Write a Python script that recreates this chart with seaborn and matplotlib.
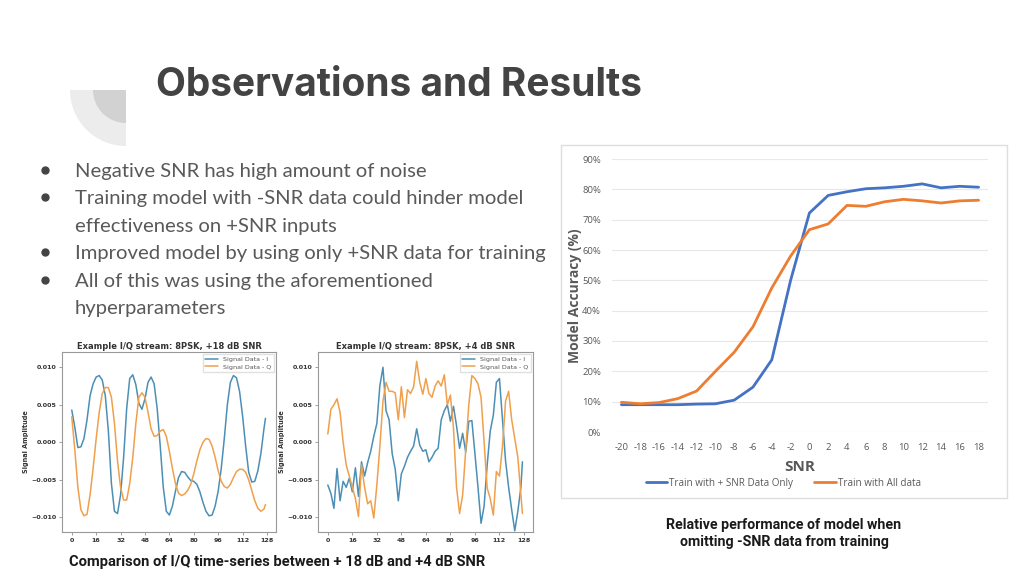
#!/usr/bin/env python3
import numpy as np
import pandas as pd
import matplotlib
matplotlib.use("Agg")
import matplotlib.pyplot as plt
import matplotlib.patches as patches
import seaborn as sns

# accuracy vs SNR
snr_labels = ["-20", "-18", "-16", "-14", "-12", "-10", "-8", "-6", "-4", "-2",
              "0", "2", "4", "6", "8", "10", "12", "14", "16", "18"]
acc_pos_only = [9.0, 9.0, 9.0, 9.0, 9.2, 9.3, 10.5, 14.8, 23.8, 50.0,
                72.2, 78.0, 79.2, 80.2, 80.5, 81.0, 81.8, 80.5, 81.0, 80.7]
acc_all = [9.8, 9.3, 9.7, 11.0, 13.5, 20.0, 26.3, 34.7, 47.5, 58.0,
           66.7, 68.6, 74.7, 74.4, 75.9, 76.7, 76.2, 75.5, 76.2, 76.4]

# I/Q streams, read every 2nd sample
samples = list(range(0, 128, 2)) + [127]
i_18db = [.0043, .0020, -.0007, -.0006, .0005, .0030, .0062, .0078, .0087, .0089,
          .0083, .0062, .0015, -.0055, -.0092, -.0095, -.0070, -.0020, .0045, .0085,
          .0090, .0077, .0052, .0044, .0058, .0080, .0087, .0078, .0045, -.0005,
          -.0060, -.0092, -.0097, -.0085, -.0065, -.0047, -.0039, -.0040, -.0046, -.0051,
          -.0052, -.0056, -.0066, -.0080, -.0092, -.0098, -.0097, -.0085, -.0065, -.0035,
          .0005, .0050, .0080, .0089, .0086, .0068, .0035, -.0005, -.0040, -.0053,
          -.0052, -.0038, -.0015, .0018, .0032]
q_18db = [.0034, -.0010, -.0060, -.0090, -.0098, -.0096, -.0070, -.0035, .0005, .0040,
          .0065, .0073, .0073, .0060, .0025, -.0025, -.0060, -.0077, -.0077, -.0055,
          -.0020, .0025, .0060, .0066, .0060, .0040, .0018, .0008, .0009, .0015,
          .0017, .0008, -.0012, -.0035, -.0055, -.0068, -.0071, -.0069, -.0064, -.0056,
          -.0042, -.0025, -.0010, .0000, .0005, .0004, -.0005, -.0020, -.0038, -.0052,
          -.0059, -.0061, -.0056, -.0047, -.0039, -.0036, -.0036, -.0040, -.0050, -.0064,
          -.0078, -.0088, -.0092, -.0089, -.0083]
i_4db = [-.0057, -.0068, -.0088, -.0035, -.0078, -.0052, -.0060, -.0048, -.0066, -.0034,
         -.0072, -.0026, -.0045, -.0027, -.0012, .0008, .0025, .0076, .0100, .0042,
         .0030, -.0015, -.0036, -.0078, -.0042, -.0032, -.0020, -.0012, -.0005, .0018,
         -.0004, -.0012, -.0010, -.0026, -.0020, -.0012, -.0008, .0030, .0042, .0050,
         .0028, .0048, .0022, -.0008, .0012, -.0013, .0028, .0029, -.0015, -.0060,
         -.0108, -.0085, -.0030, .0015, .0036, .0080, .0085, .0030, -.0025, -.0060,
         -.0090, -.0118, -.0092, -.0060, -.0026]
q_4db = [.0011, .0044, .0050, .0058, .0040, .0000, -.0030, -.0045, -.0060, -.0075,
         -.0099, -.0030, -.0060, -.0082, -.0078, -.0101, -.0057, -.0005, .0055, .0080,
         .0068, .0068, .0066, .0030, .0074, .0033, .0070, .0065, .0074, .0108,
         .0080, .0064, .0085, .0065, .0060, .0075, .0082, .0075, .0090, .0050,
         .0063, .0019, -.0060, -.0095, -.0070, -.0010, .0050, .0089, .0085, .0078,
         .0060, .0000, -.0061, -.0075, -.0097, -.0039, -.0045, -.0005, .0055, .0068,
         .0030, .0005, -.0020, -.0070, -.0095]

iq_ticks = [0, 16, 32, 48, 64, 80, 96, 112, 128]
iq_yticks = [-0.010, -0.005, 0.0, 0.005, 0.010]

bullets = ["Negative SNR has high amount of noise",
           "Training model with -SNR data could hinder model",
           "effectiveness on +SNR inputs",
           "Improved model by using only +SNR data for training",
           "All of this was using the aforementioned",
           "hyperparameters"]
bullet_marks = [True, True, False, True, True, False]

W, H = 1024, 576


def px_axes(fig, left, top, right, bottom):
    return fig.add_axes([left / W, 1 - bottom / H, (right - left) / W, (bottom - top) / H])


sns.set_theme(style="white")
plt.rcParams['font.family'] = ['Open Sans', 'DejaVu Sans']
fig = plt.figure(figsize=(W / 100, H / 100), dpi=100, facecolor="white")

# slide layer in pixel coordinates
bg = fig.add_axes([0, 0, 1, 1], zorder=0)
bg.set_xlim(0, W)
bg.set_ylim(H, 0)
bg.axis("off")
bg.add_patch(patches.Wedge((126, 90), 56, 90, 180, color="#ececec", lw=0))
bg.add_patch(patches.Wedge((126, 90), 33, 90, 180, color="#d2d2d2", lw=0))
bg.add_patch(patches.Rectangle((561, 145), 446, 353, fill=False, ec="#dedede", lw=1))

bg.text(156, 86, "Observations and Results", fontsize=28, fontweight="bold",
        family="Inter", color="#434343", va="center")
line_y = [170, 197, 225, 252, 280, 307]
for y, txt, mark in zip(line_y, bullets, bullet_marks):
    if mark:
        bg.plot(45, y, "o", ms=5, color="#444444")
    bg.text(75, y + 1.5, txt, fontsize=14.6, family="Lato", color="#595959", va="center")

bg.text(784, 525, "Relative performance of model when", fontsize=10.2, fontweight="bold",
        family="Roboto", color="#1a1a1a", ha="center", va="center")
bg.text(784, 542, "omitting -SNR data from training", fontsize=10.2, fontweight="bold",
        family="Roboto", color="#1a1a1a", ha="center", va="center")
bg.text(69, 562, "Comparison of I/Q time-series between + 18 dB and +4 dB SNR", fontsize=10.6,
        fontweight="bold", family="Roboto", color="#1a1a1a", va="center")


def iq_panel(rect, title, i_vals, q_vals):
    ax = px_axes(fig, *rect)
    df = pd.DataFrame({"sample": samples, "Signal Data - I": i_vals, "Signal Data - Q": q_vals})
    long = df.melt("sample", var_name="series", value_name="amp")
    sns.lineplot(data=long, x="sample", y="amp", hue="series",
                 palette=["#4c8fb5", "#f0a04b"], lw=1.1, ax=ax)
    ax.set_ylim(-0.01196, 0.01204)
    ax.set_xlim(-6.4, 133.9)
    ax.set_xticks(iq_ticks)
    ax.set_xticklabels([str(t) for t in iq_ticks], fontsize=4.6, fontweight="bold",
                       family="DejaVu Sans", color="#333333")
    ax.set_yticks(iq_yticks)
    ax.set_yticklabels(["\u22120.010", "\u22120.005", "0.000", "0.005", "0.010"], fontsize=4.6,
                       fontweight="bold", family="DejaVu Sans", color="#333333")
    ax.tick_params(length=2, width=0.5, color="#777777", pad=2, bottom=True, left=True)
    ax.set_xlabel("")
    ax.set_ylabel("Signal Amplitude", fontsize=4.7, fontweight="bold", family="DejaVu Sans",
                  color="#333333", labelpad=1.5)
    ax.set_title(title, fontsize=6, fontweight="bold", family="DejaVu Sans", color="#333333", pad=2.5)
    for s in ax.spines.values():
        s.set_color("#999999")
        s.set_linewidth(0.8)
    ax.legend(loc="upper right", prop={"family": "DejaVu Sans", "size": 4.6}, frameon=True,
              edgecolor="#dddddd", borderpad=0.4, labelspacing=0.35, handlelength=2,
              framealpha=0.9, labelcolor="#555555", title=None, fancybox=False, borderaxespad=0.3)


iq_panel((62, 352, 276, 532), "Example I/Q stream: 8PSK, +18 dB SNR", i_18db, q_18db)
iq_panel((318, 352, 533, 532), "Example I/Q stream: 8PSK, +4 dB SNR", i_4db, q_4db)

# accuracy chart
ax = px_axes(fig, 612, 159, 988, 432)
ax.patch.set_alpha(0)
acc = pd.DataFrame({"snr": snr_labels, "Train with + SNR Data Only": acc_pos_only,
                    "Train with All data": acc_all})
acc_long = acc.melt("snr", var_name="series", value_name="accuracy")
sns.lineplot(data=acc_long, x="snr", y="accuracy", hue="series", sort=False,
             palette=["#4472c4", "#ed7d31"], lw=2, ax=ax)
ax.set_xlim(-0.5, 19.5)
ax.set_ylim(0, 90)
ax.set_yticks(range(0, 100, 10))
ax.set_yticklabels([f"{v}%" for v in range(0, 100, 10)], fontsize=6.8, color="#595959")
ax.tick_params(axis="x", labelsize=6.8, labelcolor="#595959", length=0, pad=8)
ax.tick_params(axis="y", length=0, pad=8)
ax.grid(axis="y", color="#e8e8e8", lw=0.8)
ax.set_axisbelow(True)
sns.despine(ax=ax, left=True, bottom=True)
ax.set_xlabel("SNR", fontsize=11, fontweight="bold", color="#595959", labelpad=6)
ax.set_ylabel("Model Accuracy (%)", fontsize=10, fontweight="bold", color="#595959", labelpad=0)
ax.legend(loc="upper center", bbox_to_anchor=(0.455, -0.135), ncol=2, frameon=False, fontsize=7.1,
          labelcolor="#595959", handlelength=2.2, columnspacing=2.1, handletextpad=0.2, title=None)

fig.savefig("out.png", dpi=100)
